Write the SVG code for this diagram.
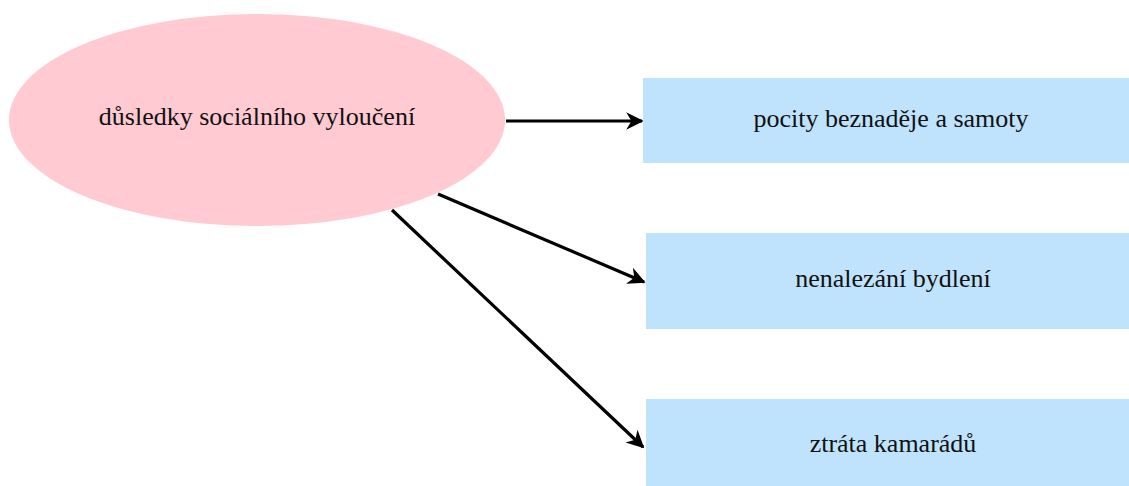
<svg xmlns="http://www.w3.org/2000/svg" width="1129" height="486" viewBox="0 0 1129 486">
<style>
.lbl{font-family:"Liberation Serif","Times New Roman",serif;font-size:26px;fill:#111;text-anchor:middle}
.box{fill:#BFE3FD}
.edge{stroke:#000;stroke-width:3.2;fill:none;marker-end:url(#ah)}
</style>
<defs>
<marker id="ah" viewBox="0 0 10 10" refX="9" refY="5" markerWidth="5.5" markerHeight="5.5" orient="auto" markerUnits="strokeWidth">
<path d="M0,0 L10,5 L0,10 L3,5 z" fill="#000"/>
</marker>
</defs>
<rect width="1129" height="486" fill="#fff"/>
<g id="connectors">
<line class="edge" x1="506" y1="121" x2="642" y2="121"/>
<line class="edge" x1="438" y1="194" x2="644" y2="282"/>
<line class="edge" x1="392" y1="210" x2="643" y2="447"/>
</g>
<g id="n0">
<ellipse cx="257" cy="120" rx="248" ry="106" fill="#FFCAD1"/>
<text class="lbl" x="257" y="125">důsledky sociálního vyloučení</text>
</g>
<g id="n1">
<rect class="box" x="643" y="78" width="486" height="85"/>
<text class="lbl" x="891" y="127">pocity beznaděje a samoty</text>
</g>
<g id="n2">
<rect class="box" x="646" y="233" width="483" height="96"/>
<text class="lbl" x="893" y="287">nenalezání bydlení</text>
</g>
<g id="n3">
<rect class="box" x="646" y="399" width="483" height="87"/>
<text class="lbl" x="893" y="452">ztráta kamarádů</text>
</g>
</svg>
